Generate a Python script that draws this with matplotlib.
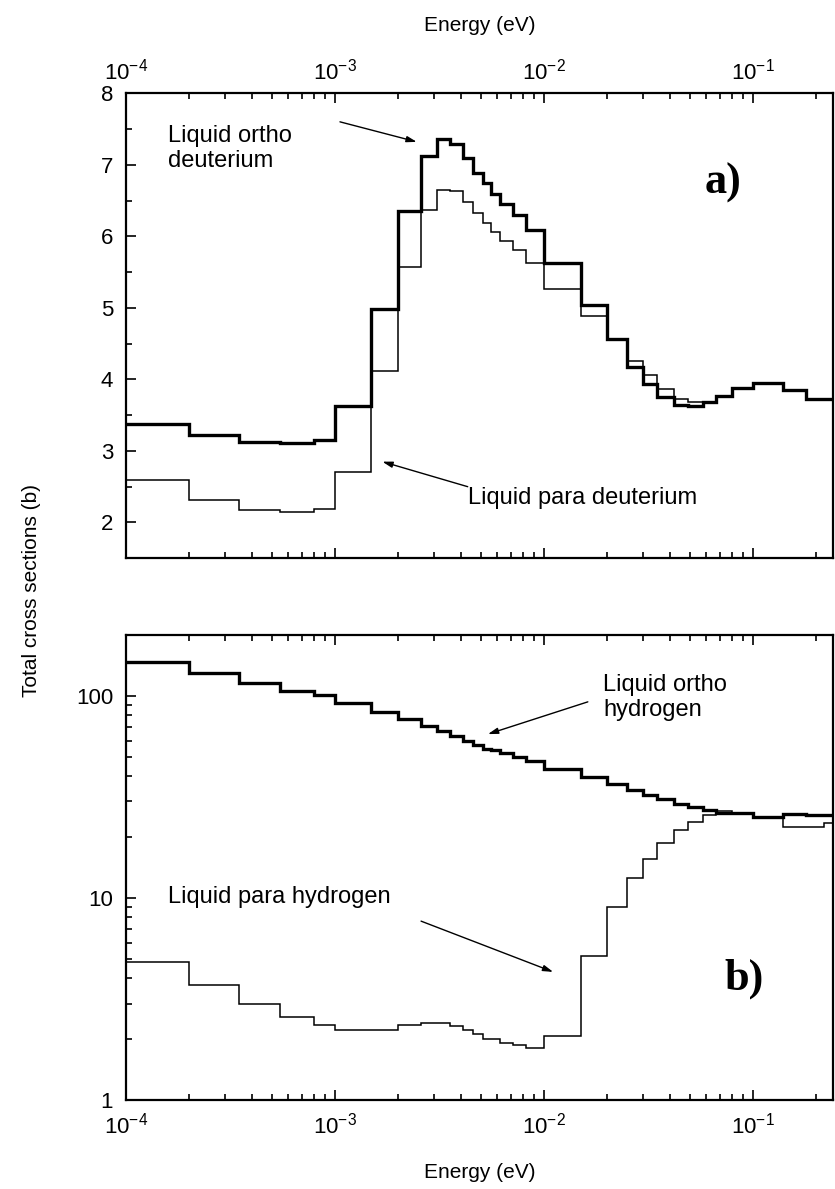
import numpy as np
import matplotlib
matplotlib.use("Agg")
import matplotlib.pyplot as plt
from matplotlib.ticker import LogLocator, NullFormatter, MultipleLocator

plt.rcParams['font.family'] = ['Liberation Sans', 'DejaVu Sans']
plt.rcParams['axes.unicode_minus'] = False
plt.rcParams['mathtext.default'] = 'regular'

# energy group boundaries (eV)
edges = [1e-4, 2e-4, 3.5e-4, 5.5e-4, 8e-4, 1e-3, 1.5e-3, 2e-3, 2.6e-3, 3.1e-3,
         3.55e-3, 4.1e-3, 4.6e-3, 5.1e-3, 5.6e-3, 6.15e-3, 7.1e-3, 8.2e-3, 1e-2,
         1.5e-2, 2e-2, 2.5e-2, 3e-2, 3.5e-2, 4.2e-2, 4.9e-2, 5.8e-2, 6.7e-2, 8e-2,
         0.1, 0.14, 0.18, 0.22, 0.3]

# a) deuterium, total cross sections (b)
ortho_d = [3.38, 3.22, 3.13, 3.11, 3.15, 3.63, 4.98, 6.36, 7.12, 7.36,
           7.29, 7.10, 6.89, 6.74, 6.59, 6.45, 6.30, 6.09, 5.62, 5.04,
           4.56, 4.18, 3.94, 3.76, 3.64, 3.63, 3.68, 3.77, 3.88, 3.95,
           3.85, 3.73, 3.73]
para_d = [2.59, 2.31, 2.18, 2.15, 2.19, 2.71, 4.12, 5.57, 6.37, 6.65,
          6.63, 6.48, 6.32, 6.18, 6.06, 5.94, 5.81, 5.63, 5.26, 4.88,
          4.56, 4.26, 4.06, 3.86, 3.72, 3.68, 3.68, 3.77, 3.88, 3.95,
          3.85, 3.73, 3.73]

# b) hydrogen
ortho_h = [147, 129, 116, 106, 101, 92.3, 83.3, 76.4, 70.8, 67.1,
           63.1, 59.8, 57.0, 54.5, 54.0, 51.9, 49.6, 47.7, 43.2, 39.7,
           36.5, 34.1, 32.2, 30.7, 29.3, 28.2, 27.2, 26.4, 26.2, 25.2,
           25.9, 25.6, 25.6]
para_h = [4.82, 3.70, 2.98, 2.56, 2.34, 2.23, 2.23, 2.36, 2.40, 2.39,
          2.32, 2.21, 2.13, 2.01, 2.00, 1.92, 1.87, 1.80, 2.07, 5.14,
          8.96, 12.5, 15.5, 18.7, 21.6, 23.8, 25.7, 26.8, 26.4, 25.2,
          22.5, 22.5, 23.4]

fig = plt.figure(figsize=(8.35, 11.89), dpi=100)
ax1 = fig.add_axes([0.1505, 0.5305, 0.8477, 0.3911])
ax2 = fig.add_axes([0.1505, 0.0749, 0.8477, 0.3911])

xmin, xmax = 1e-4, 0.2435
fs_note = 17


def style(ax):
    ax.set_xscale('log')
    ax.set_xlim(xmin, xmax)
    ax.xaxis.set_major_locator(LogLocator(base=10, numticks=10))
    ax.xaxis.set_minor_locator(LogLocator(base=10, subs=np.arange(2, 10), numticks=20))
    ax.xaxis.set_minor_formatter(NullFormatter())
    ax.tick_params(which='both', direction='in', top=True, bottom=True,
                   left=True, right=False, width=1.2)
    ax.tick_params(which='major', length=7)
    ax.tick_params(which='minor', length=4)
    ax.tick_params(axis='x', which='major', labelsize=16, pad=6)
    ax.tick_params(axis='y', which='major', labelsize=16, pad=9)
    for s in ax.spines.values():
        s.set_linewidth(1.6)


# ---- a) ----
style(ax1)
ax1.stairs(ortho_d, edges, baseline=None, color='black', lw=2.4)
ax1.stairs(para_d, edges, baseline=None, color='black', lw=1.1)
ax1.set_ylim(1.5, 8)
ax1.yaxis.set_major_locator(MultipleLocator(1))
ax1.yaxis.set_minor_locator(MultipleLocator(0.5))
ax1.tick_params(axis='x', labeltop=True, labelbottom=False)
ax1.xaxis.set_label_position('top')
ax1.set_xlabel('Energy (eV)', fontsize=15, labelpad=20)

arrow = dict(arrowstyle='-|>,head_length=0.6,head_width=0.18', color='black', lw=1.0,
             shrinkA=0, shrinkB=0)
ax1.text(1.59e-4, 7.23, 'Liquid ortho\ndeuterium', fontsize=fs_note, va='center',
         ha='left', linespacing=1.2)
ax1.annotate('', xy=(2.47e-3, 7.32), xytext=(1.06e-3, 7.60), arrowprops=arrow)
ax1.text(4.33e-3, 2.34, 'Liquid para deuterium', fontsize=fs_note, va='center', ha='left')
ax1.annotate('', xy=(1.69e-3, 2.85), xytext=(4.33e-3, 2.50), arrowprops=arrow)
ax1.text(0.0721, 6.75, 'a)', fontsize=32, fontweight='bold', family='Liberation Serif',
         ha='center', va='center')

# ---- b) ----
style(ax2)
ax2.stairs(ortho_h, edges, baseline=None, color='black', lw=2.4)
ax2.stairs(para_h, edges, baseline=None, color='black', lw=1.1)
ax2.set_yscale('log')
ax2.set_ylim(1, 200)
ax2.yaxis.set_minor_locator(LogLocator(base=10, subs=np.arange(2, 10), numticks=20))
ax2.yaxis.set_minor_formatter(NullFormatter())
ax2.set_yticks([1, 10, 100])
ax2.set_yticklabels(['1', '10', '100'])
ax2.tick_params(axis='x', which='major', pad=9)
ax2.set_xlabel('Energy (eV)', fontsize=15, labelpad=18)

ax2.text(0.0192, 98.2, 'Liquid ortho\nhydrogen', fontsize=fs_note, va='center',
         ha='left', linespacing=1.2)
ax2.annotate('', xy=(5.41e-3, 64.6), xytext=(0.01626, 93.3), arrowprops=arrow)
ax2.text(1.6e-4, 10.1, 'Liquid para hydrogen', fontsize=fs_note, va='center', ha='left')
ax2.annotate('', xy=(0.0111, 4.30), xytext=(2.59e-3, 7.67), arrowprops=arrow)
ax2.text(0.0908, 4.0, 'b)', fontsize=32, fontweight='bold', family='Liberation Serif',
         ha='center', va='center')

fig.text(32 / 835, 1 - 590 / 1189, 'Total cross sections (b)', rotation=90,
         fontsize=15, ha='center', va='center')

fig.savefig('out.png', dpi=100)
